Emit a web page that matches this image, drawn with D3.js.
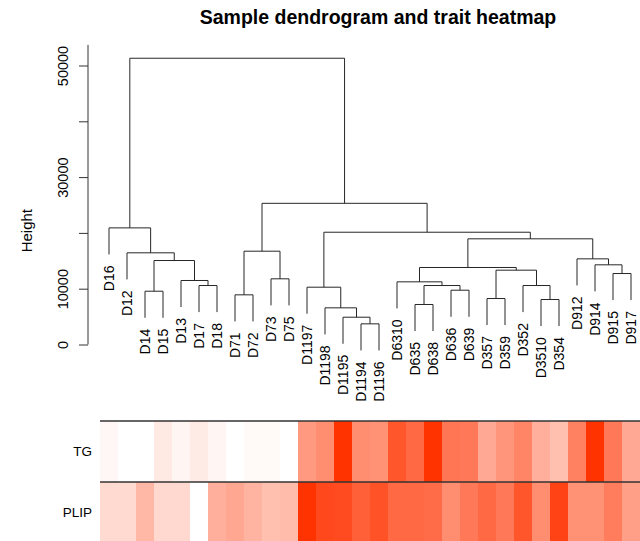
<!DOCTYPE html>
<html>
<head>
<meta charset="utf-8">
<script src="https://cdn.jsdelivr.net/npm/d3@7"></script>
<style>
  html, body { margin: 0; padding: 0; background: #fff; }
  svg { display: block; font-family: "Liberation Sans", Arial, Helvetica, sans-serif; }
</style>
</head>
<body>
<svg id="chart" width="640" height="541"></svg>
<script>
// ---------------- DATA ----------------
const leaves = ["D16","D12","D14","D15","D13","D17","D18","D71","D72","D73","D75",
  "D1197","D1198","D1195","D1194","D1196","D6310","D635","D638","D636","D639",
  "D357","D359","D352","D3510","D354","D912","D914","D915","D917"];

// R hclust-style merge matrix: negative = leaf (-(index+1)), positive = earlier merge (1-based)
const merges = [
  [-6, -7], [-3, -4], [-5, 1], [2, 3], [-2, 4], [-1, 5],
  [-8, -9], [-10, -11], [7, 8],
  [-15, -16], [-14, 10], [-13, 11], [-12, 12],
  [-18, -19], [-20, -21], [14, 15], [-17, 16],
  [-22, -23], [-25, -26], [-24, 19], [18, 20], [17, 21],
  [-29, -30], [-28, 23], [-27, 24], [22, 25],
  [13, 26], [9, 27], [6, 28]
];
const mergeHeights = [
  10570, 9550, 11470, 15050, 16430, 20900,
  8900, 11770, 16720,
  3700, 4890, 6570, 10270,
  7170, 9730, 10570, 11230,
  8240, 8060, 10570, 13320, 13800,
  12720, 14280, 15350, 18940,
  20120, 25300, 51300
];

const traitNames = ["TG", "PLIP"];
const tgValues = [0.04, 0, 0, 0.11, 0.05, 0.10, 0.05, 0, 0.03, 0.03,
  0, 0.50, 0.56, 1.00, 0.56, 0.54, 0.83, 0.73, 1.00, 0.67,
  0.66, 0.42, 0.52, 0.60, 0.39, 0.31, 0.62, 1.00, 0.66, 0.42];
const plipValues = [0.18, 0.18, 0.35, 0.19, 0.19, 0, 0.39, 0.43, 0.37, 0.31,
  0.33, 1.00, 0.89, 0.88, 0.78, 0.85, 0.73, 0.73, 0.72, 0.56,
  0.66, 0.73, 0.66, 0.83, 0.56, 0.92, 0.54, 0.54, 0.64, 0.47];

const yTicks = [0, 10000, 20000, 30000, 40000, 50000];
const yTickLabels = ["0", "10000", "", "30000", "", "50000"];
const axisTopValue = 53700;
const titleText = "Sample dendrogram and trait heatmap";
const yLabel = "Height";

// ---------------- LAYOUT ----------------
const svg = d3.select("#chart");
const x = d3.scaleBand().domain(leaves).range([100, 640]).padding(0);
const y = d3.scaleLinear().domain([0, 50000]).range([344.5, 65.5]);
const color = d3.scaleLinear().domain([0, 1]).range(["#ffffff", "#ff3300"]).interpolate(d3.interpolateRgb);

const hang = 0.1 * (d3.max(mergeHeights) - d3.min(mergeHeights));

const nodeX = [], nodeH = [];
function childInfo(c, parentH) {
  if (c < 0) {
    const name = leaves[-c - 1];
    return { x: x(name) + x.bandwidth() / 2, bottom: parentH - hang, leaf: name };
  }
  return { x: nodeX[c - 1], bottom: nodeH[c - 1], leaf: null };
}

const dendroG = svg.append("g").attr("fill", "none").attr("stroke", "#262626").attr("stroke-width", 1);
const leafEnds = [];
merges.forEach((m, i) => {
  const h = mergeHeights[i];
  const a = childInfo(m[0], h), b = childInfo(m[1], h);
  nodeX[i] = (a.x + b.x) / 2;
  nodeH[i] = h;
  const path = d3.path();
  path.moveTo(a.x, y(a.bottom));
  path.lineTo(a.x, y(h));
  path.lineTo(b.x, y(h));
  path.lineTo(b.x, y(b.bottom));
  dendroG.append("path").attr("d", path.toString());
  [a, b].forEach(c => { if (c.leaf) leafEnds.push(c); });
});

// leaf labels
svg.append("g").selectAll("text").data(leafEnds).join("text")
  .attr("transform", d => `translate(${d.x},${y(d.bottom) + 11}) rotate(-90)`)
  .attr("text-anchor", "end")
  .attr("dy", "0.36em")
  .attr("font-size", 14)
  .attr("fill", "#000")
  .text(d => d.leaf);

// y axis
const axisX = 88;
const axisG = svg.append("g").attr("transform", `translate(${axisX},0)`)
  .call(d3.axisLeft(y).tickValues(yTicks).tickFormat((d, i) => yTickLabels[i]).tickSize(9));
axisG.select(".domain").remove();
axisG.selectAll(".tick line").attr("stroke", "#333");
axisG.append("line")
  .attr("x1", 0).attr("x2", 0)
  .attr("y1", y(0)).attr("y2", y(axisTopValue))
  .attr("stroke", "#333");
axisG.selectAll(".tick text")
  .attr("transform", "rotate(-90)")
  .attr("x", 0).attr("y", -20).attr("dy", 0)
  .attr("text-anchor", "middle")
  .attr("font-size", 14.5)
  .attr("font-family", "Liberation Sans, Arial, sans-serif")
  .attr("fill", "#000");

svg.append("text")
  .attr("transform", `translate(32,${(y(0) + y(axisTopValue)) / 2 + 36}) rotate(-90)`)
  .attr("text-anchor", "middle")
  .attr("font-size", 15)
  .text(yLabel);

// title
svg.append("text")
  .attr("x", 378).attr("y", 24)
  .attr("text-anchor", "middle")
  .attr("font-size", 19.5)
  .attr("font-weight", "bold")
  .text(titleText);

// heatmap
const rowBand = d3.scaleBand().domain(traitNames).range([421, 543]);
const traitData = [tgValues, plipValues];
const heatG = svg.append("g");
traitNames.forEach((t, r) => {
  heatG.append("g").selectAll("rect").data(traitData[r]).join("rect")
    .attr("x", (d, i) => x(leaves[i]))
    .attr("y", rowBand(t))
    .attr("width", x.bandwidth() + 0.5)
    .attr("height", rowBand.bandwidth())
    .attr("fill", d => color(d));
  svg.append("text")
    .attr("x", 92).attr("y", rowBand(t) + rowBand.bandwidth() / 2)
    .attr("dy", "0.35em")
    .attr("text-anchor", "end")
    .attr("font-size", 13.5)
    .text(t);
});
traitNames.forEach(t => {
  heatG.append("line")
    .attr("x1", x.range()[0]).attr("x2", x.range()[1])
    .attr("y1", rowBand(t)).attr("y2", rowBand(t))
    .attr("stroke", "#333").attr("stroke-width", 1.5);
});
</script>
</body>
</html>
